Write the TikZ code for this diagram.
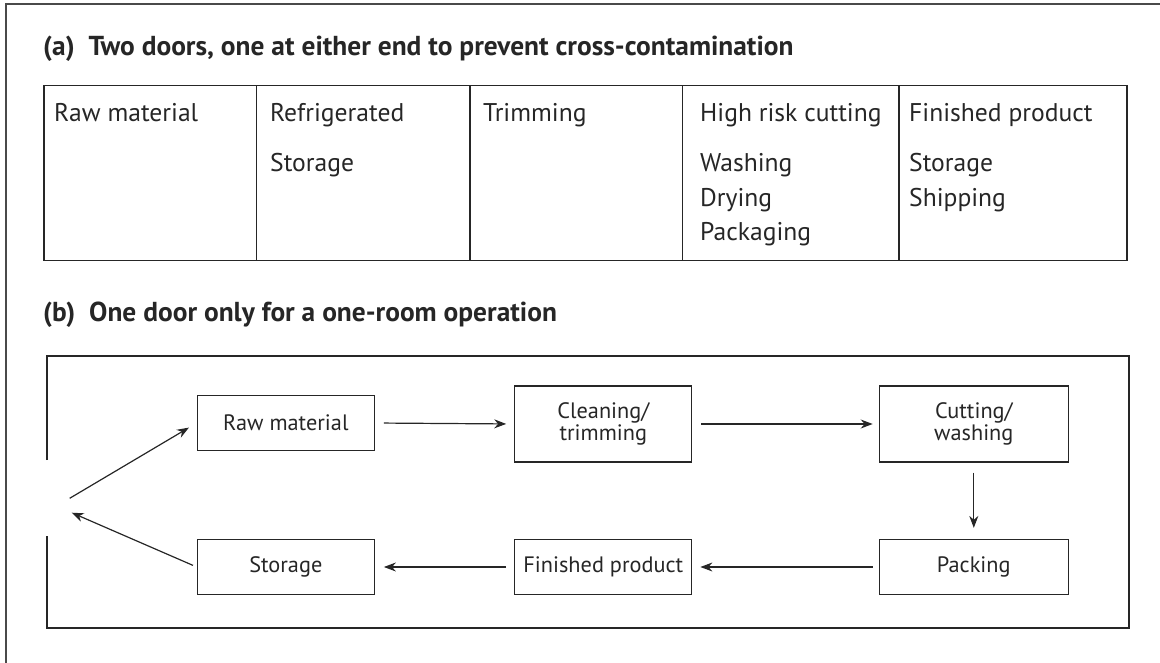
\documentclass[tikz,border=0pt]{standalone}
\usepackage{fontspec}
\setmainfont{PT Sans}
\usetikzlibrary{arrows.meta}
\definecolor{ink}{HTML}{262626}
\definecolor{framec}{HTML}{4A4A4A}
\begin{document}
\begin{tikzpicture}[x=1pt,y=-1pt,
  line/.style={draw=ink,line width=1.2pt},
  frameline/.style={draw=framec,line width=2pt},
  title/.style={anchor=base west,inner sep=0pt,font=\fontsize{27.4}{32}\selectfont\bfseries,text=ink},
  cell/.style={anchor=base west,inner sep=0pt,font=\fontsize{25.6}{34.5}\selectfont,text=ink,align=left},
  box/.style={draw=ink,line width=1.2pt,minimum width=177pt,minimum height=55pt,inner sep=0pt,
    font=\fontsize{22.3}{22.5}\selectfont,text=ink,align=center},
  arr/.style={draw=ink,line width=1.2pt,-{Stealth[length=12pt,width=9pt]}}
]
\useasboundingbox (0,0) rectangle (1160,663);
% outer frame
\draw[frameline] (5.7,663) -- (5.7,4.3) -- (1160,4.3);

% (a)
\node[title] (ta) at (43,56) {(a)\ \ Two doors, one at either end to prevent cross-contamination};
\draw[line] (44,85.7) rectangle (1127,260.7);
\draw[line] (256.7,85.7) -- (256.7,260.7);
\draw[line] (470,85.7) -- (470,260.7);
\draw[line] (682.7,85.7) -- (682.7,260.7);
\draw[line] (899,85.7) -- (899,260.7);
\node[cell] (c1) at (54,122) {Raw material};
\node[cell] (c2) at (270,122) {Refrigerated};
\node[cell] (c2b) at (270,171.7) {Storage};
\node[cell] (c3) at (483,122) {Trimming};
\node[cell] (c4) at (700,122) {High risk cutting};
\node[cell] (c4l1) at (700,171.7) {Washing};
\node[cell] (c4l2) at (700,206.5) {Drying};
\node[cell] (c4l3) at (700,241) {Packaging};
\node[cell] (c5) at (909,122) {Finished product};
\node[cell] (c5l1) at (909,171.7) {Storage};
\node[cell] (c5l2) at (909,206.5) {Shipping};

% (b)
\node[title] (tb) at (43,322) {(b)\ \ One door only for a one-room operation};
\draw[line] (47,460) -- (47,356) -- (1129,356) -- (1129,628) -- (47,628) -- (47,536);

\node[box] (raw) at (285.8,423) {Raw material};
\node[box] (clean) at (603.3,424) [minimum height=76pt] {Cleaning/\\trimming};
\node[box] (cut) at (973.8,424) [minimum width=189pt,minimum height=76pt] {Cutting/\\washing};
\node[box] (pack) at (973.8,567) [minimum width=189pt] {Packing};
\node[box] (fin) at (603.3,567) {Finished product};
\node[box] (stor) at (285.8,567) {Storage};

\coordinate (dout) at (69.7,498.3);
\coordinate (din) at (71.7,512.7);

\draw[arr,shorten <=9pt,shorten >=8pt] (raw.east) -- (clean.west);
\draw[arr,shorten <=9pt,shorten >=6pt] (clean.east) -- (cut.west);
\draw[arr,shorten <=10pt,shorten >=11pt] (cut.south) -- (pack.north);
\draw[arr,shorten <=6pt,shorten >=8pt] (pack.west) -- (fin.east);
\draw[arr,shorten <=8pt,shorten >=9pt] (fin.west) -- (stor.east);
\draw[arr,shorten >=9pt] (dout) -- (raw.west);
\draw[arr,shorten <=4pt] (stor.west) -- (din);
\end{tikzpicture}
\end{document}
